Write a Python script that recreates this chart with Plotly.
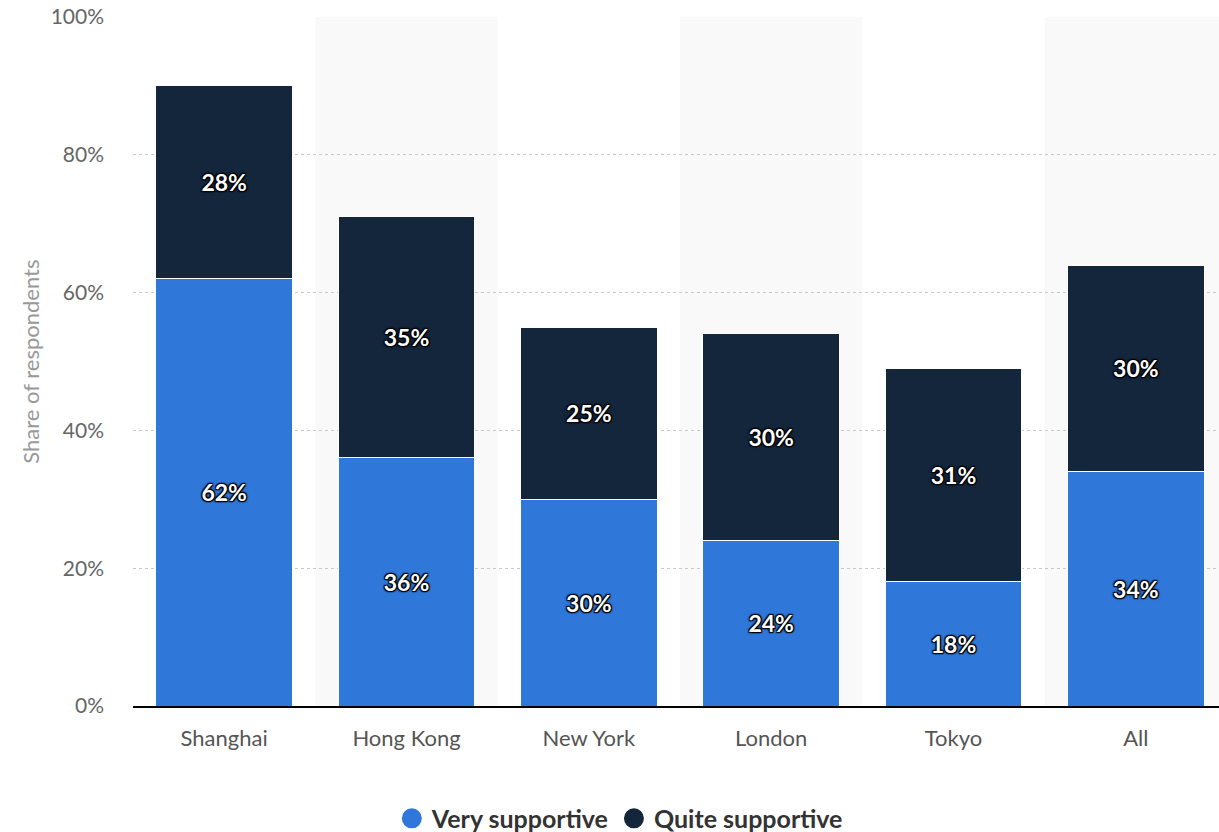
import plotly.graph_objects as go

categories = ["Shanghai", "Hong Kong", "New York", "London", "Tokyo", "All"]
very_supportive = [62, 36, 30, 24, 18, 34]
quite_supportive = [28, 35, 25, 30, 31, 30]
y_ticks = [0, 20, 40, 60, 80, 100]
y_tick_labels = ["0%", "20%", "40%", "60%", "80%", "100%"]

BLUE = "#2f78d9"
DARK = "#13263c"
FONT = "Lato, Open Sans, sans-serif"
shadow = ("-1px -1px 1px #000, 1px -1px 1px #000, -1px 1px 1px #000, 1px 1px 1px #000, "
          "0 0 3px #000")

fig = go.Figure()
for name, vals, col in [("Very supportive", very_supportive, BLUE),
                        ("Quite supportive", quite_supportive, DARK)]:
    fig.add_trace(go.Bar(
        x=categories, y=vals, name=name, showlegend=False,
        marker=dict(color=col, line=dict(color="white", width=1)),
        text=[f"{v}%" for v in vals], textposition="inside",
        insidetextanchor="middle",
        textfont=dict(color="white", size=23, family=FONT, weight="bold", shadow=shadow),
        hoverinfo="skip",
    ))
# legend entries with circular markers
for name, col in [("Very supportive", BLUE), ("Quite supportive", DARK)]:
    fig.add_trace(go.Scatter(
        x=[None], y=[None], mode="markers", name=name,
        marker=dict(color=col, size=16, symbol="circle", line=dict(color=col, width=4)),
        hoverinfo="skip",
    ))

shapes = []
for i in range(len(categories)):
    if i % 2 == 1:
        shapes.append(dict(type="rect", xref="x", yref="paper",
                           x0=i - 0.5, x1=i + 0.5, y0=0, y1=1,
                           fillcolor="#f9f9f9", line=dict(width=0), layer="below"))

fig.update_layout(
    width=1227, height=832,
    barmode="stack", bargap=0.25,
    paper_bgcolor="white", plot_bgcolor="white",
    margin=dict(l=133, r=0, t=17, b=126, autoexpand=False),
    font=dict(family=FONT, color="#666666"),
    shapes=shapes,
    uniformtext=dict(minsize=23, mode="show"),
    showlegend=True,
    legend=dict(orientation="h", x=0.445, xanchor="center", y=-0.13, yanchor="top",
                font=dict(size=25, color="#333333", family=FONT, weight="bold"),
                traceorder="normal", itemwidth=30),
    xaxis=dict(tickfont=dict(size=22, color="#555555"), showgrid=False,
               showline=True, linecolor="#000000", linewidth=1.5, automargin=False,
               ticks="", range=[-0.5, 5.5], ticklabelstandoff=12),
    yaxis=dict(range=[0, 100], tickvals=y_ticks, ticktext=y_tick_labels,
               tickfont=dict(size=21, color="#666666"), ticklabeloverflow="allow",
               showgrid=True, gridcolor="#c8c8c8", griddash="dot", gridwidth=1,
               zeroline=False, ticks="", ticklabelstandoff=28, automargin=False),
    annotations=[dict(text="Share of respondents", textangle=-90, showarrow=False,
                      xref="paper", yref="paper", x=-0.094, y=0.5,
                      xanchor="center", yanchor="middle",
                      font=dict(size=22, color="#999999", family=FONT))],
)

fig.write_html(
    "out.html",
    config={"displayModeBar": False},
    post_script="document.body.style.margin='0';document.body.style.overflow='hidden';",
)
